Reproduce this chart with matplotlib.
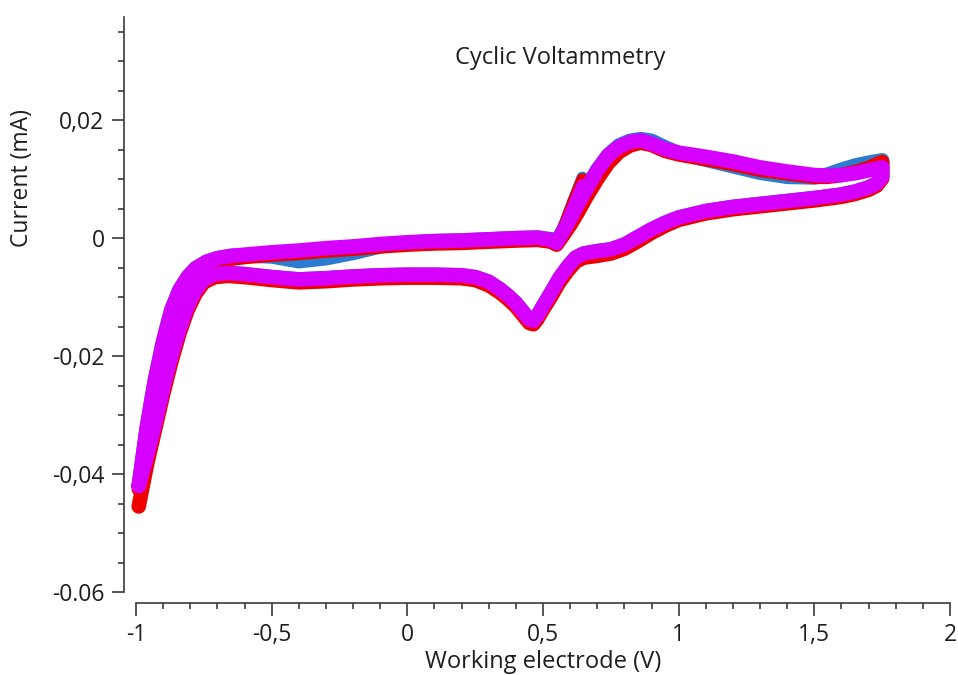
import matplotlib
matplotlib.use("Agg")
import matplotlib.pyplot as plt
from matplotlib.ticker import MultipleLocator, FixedLocator

# Potential grids (V) for the positive-going and negative-going sweeps
v_forward = [-0.99, -0.96, -0.93, -0.90, -0.87, -0.84, -0.81, -0.78, -0.74, -0.70,
             -0.65, -0.60, -0.50, -0.40, -0.30, -0.20, -0.10, 0.00, 0.10, 0.20,
             0.30, 0.40, 0.48, 0.53, 0.55, 0.57, 0.60, 0.63, 0.66, 0.70,
             0.74, 0.78, 0.82, 0.86, 0.90, 0.95, 1.00, 1.10, 1.20, 1.30,
             1.40, 1.50, 1.55, 1.60, 1.65, 1.70, 1.75]
v_reverse = [1.75, 1.73, 1.70, 1.65, 1.60, 1.50, 1.40, 1.30, 1.20, 1.10,
             1.00, 0.95, 0.90, 0.85, 0.80, 0.75, 0.70, 0.65, 0.62, 0.59,
             0.56, 0.53, 0.50, 0.48, 0.465, 0.45, 0.43, 0.40, 0.37, 0.34,
             0.30, 0.25, 0.20, 0.10, 0.00, -0.10, -0.20, -0.30, -0.40, -0.50,
             -0.60, -0.66, -0.71, -0.75, -0.78, -0.81, -0.84, -0.87, -0.90, -0.93,
             -0.96, -0.99]
v_start = [0.645, 0.61, 0.58, 0.555]

# Currents (mA), scan 1 (blue)
i_fwd_blue = [-0.0420, -0.0320, -0.0240, -0.0175, -0.0122, -0.0088, -0.0066, -0.0051, -0.0040, -0.0034,
              -0.0030, -0.0029, -0.0031, -0.0039, -0.0034, -0.0025, -0.0014, -0.0008, -0.0005, -0.0004,
              -0.0002, 0.0000, 0.0001, -0.0002, -0.0006, 0.0010, 0.0034, 0.0061, 0.0085, 0.0116,
              0.0141, 0.0157, 0.0165, 0.0168, 0.0165, 0.0154, 0.0144, 0.0133, 0.0122, 0.0111,
              0.0104, 0.0103, 0.0108, 0.0116, 0.0123, 0.0128, 0.0132]
i_rev_blue = [0.0104, 0.0093, 0.0086, 0.0079, 0.0074, 0.0068, 0.0063, 0.0058, 0.0053, 0.0046,
              0.0035, 0.0026, 0.0015, 0.0002, -0.0011, -0.0019, -0.0022, -0.0026, -0.0033, -0.0049,
              -0.0068, -0.0092, -0.0115, -0.0131, -0.0140, -0.0138, -0.0127, -0.0110, -0.0097, -0.0086,
              -0.0074, -0.0066, -0.0063, -0.0062, -0.0062, -0.0063, -0.0065, -0.0068, -0.0070, -0.0066,
              -0.0061, -0.0059, -0.0061, -0.0070, -0.0088, -0.0115, -0.0155, -0.0200, -0.0255, -0.0315,
              -0.0370, -0.0420]
i_start_blue = [0.0103, 0.0062, 0.0025, -0.0003]

# Scan 2 (red)
i_fwd_red = [-0.0425, -0.0328, -0.0248, -0.0182, -0.0128, -0.0093, -0.0071, -0.0056, -0.0045, -0.0039,
             -0.0035, -0.0032, -0.0028, -0.0025, -0.0021, -0.0018, -0.0014, -0.0011, -0.0009, -0.0008,
             -0.0006, -0.0004, -0.0003, -0.0006, -0.0011, 0.0002, 0.0022, 0.0045, 0.0070, 0.0100,
             0.0127, 0.0146, 0.0157, 0.0162, 0.0158, 0.0148, 0.0142, 0.0134, 0.0126, 0.0116,
             0.0110, 0.0104, 0.0104, 0.0107, 0.0112, 0.0119, 0.0129]
i_rev_red = [0.0101, 0.0089, 0.0082, 0.0075, 0.0070, 0.0064, 0.0059, 0.0054, 0.0049, 0.0042,
             0.0031, 0.0021, 0.0009, -0.0005, -0.0018, -0.0026, -0.0030, -0.0033, -0.0040, -0.0056,
             -0.0075, -0.0099, -0.0121, -0.0137, -0.0146, -0.0144, -0.0133, -0.0116, -0.0103, -0.0092,
             -0.0080, -0.0071, -0.0068, -0.0067, -0.0067, -0.0068, -0.0070, -0.0073, -0.0075, -0.0071,
             -0.0066, -0.0064, -0.0066, -0.0075, -0.0094, -0.0122, -0.0162, -0.0210, -0.0265, -0.0325,
             -0.0385, -0.0455]
i_start_red = [0.0100, 0.0060, 0.0024, -0.0004]

# Scan 3 (magenta)
i_fwd_mag = [-0.0420, -0.0320, -0.0240, -0.0175, -0.0122, -0.0088, -0.0066, -0.0051, -0.0040, -0.0034,
             -0.0030, -0.0028, -0.0024, -0.0021, -0.0017, -0.0014, -0.0010, -0.0007, -0.0005, -0.0004,
             -0.0002, 0.0000, 0.0001, -0.0003, -0.0008, 0.0008, 0.0032, 0.0059, 0.0083, 0.0115,
             0.0140, 0.0155, 0.0163, 0.0166, 0.0160, 0.0151, 0.0145, 0.0138, 0.0130, 0.0120,
             0.0113, 0.0107, 0.0106, 0.0107, 0.0110, 0.0115, 0.0120]
i_rev_mag = [0.0104, 0.0093, 0.0086, 0.0079, 0.0074, 0.0068, 0.0063, 0.0058, 0.0053, 0.0046,
             0.0035, 0.0026, 0.0015, 0.0002, -0.0011, -0.0019, -0.0022, -0.0026, -0.0033, -0.0049,
             -0.0068, -0.0092, -0.0115, -0.0131, -0.0140, -0.0138, -0.0127, -0.0110, -0.0097, -0.0086,
             -0.0074, -0.0066, -0.0063, -0.0062, -0.0062, -0.0063, -0.0065, -0.0068, -0.0070, -0.0066,
             -0.0061, -0.0059, -0.0061, -0.0070, -0.0088, -0.0115, -0.0155, -0.0200, -0.0255, -0.0315,
             -0.0370, -0.0420]
i_start_mag = [0.0090, 0.0052, 0.0019, -0.0005]

x_ticks = [-1, -0.5, 0, 0.5, 1, 1.5, 2]
x_tick_labels = ["-1", "-0,5", "0", "0,5", "1", "1,5", "2"]
y_ticks = [-0.06, -0.04, -0.02, 0, 0.02]
y_tick_labels = ["-0.06", "-0,04", "-0,02", "0", "0,02"]

series = [
    ("#2b7bd0", i_fwd_blue, i_rev_blue, i_start_blue),
    ("#ee0000", i_fwd_red, i_rev_red, i_start_red),
    ("#d600ff", i_fwd_mag, i_rev_mag, i_start_mag),
]

plt.rcParams["font.family"] = ["Open Sans", "DejaVu Sans"]
text_color = "#1e1e1e"
axis_color = "#3a3a3a"

W, H = 958, 675
fig = plt.figure(figsize=(W / 100, H / 100), dpi=100)
ax = fig.add_axes([136 / W, (H - 592) / H, (950 - 136) / W, (592 - 17) / H])

lw = 10.5
for color, i_fwd, i_rev, i_start in series:
    ax.plot(v_forward + v_reverse, i_fwd + i_rev, color=color, lw=lw,
            solid_capstyle="round", solid_joinstyle="round", clip_on=False)
    ax.plot(v_start, i_start, color=color, lw=lw * 0.8,
            solid_capstyle="round", solid_joinstyle="round", clip_on=False)

ax.set_xlim(-1, 2)
ax.set_ylim(-0.06, 0.0375)

for side in ("top", "right"):
    ax.spines[side].set_visible(False)
ax.spines["left"].set_position(("outward", 8.6))
ax.spines["bottom"].set_position(("outward", 8.0))
ax.spines["left"].set_bounds(-0.06, 0.0375)
ax.spines["bottom"].set_bounds(-1, 2)
for side in ("left", "bottom"):
    ax.spines[side].set_color(axis_color)
    ax.spines[side].set_linewidth(1.2)

ax.xaxis.set_major_locator(FixedLocator(x_ticks))
ax.set_xticklabels(x_tick_labels)
ax.xaxis.set_minor_locator(MultipleLocator(0.1))
ax.yaxis.set_major_locator(FixedLocator(y_ticks))
ax.set_yticklabels(y_tick_labels)
ax.yaxis.set_minor_locator(MultipleLocator(0.005))

ax.tick_params(which="major", direction="out", length=9, width=1.2,
               color=axis_color, labelsize=16.5, labelcolor=text_color, pad=5)
ax.tick_params(which="minor", direction="out", length=4.5, width=1.2, color=axis_color)

ax.set_xlabel("Working electrode (V)", fontsize=17, color=text_color, va="center")
ax.xaxis.set_label_coords(0.5, (592 - 662) / 575)
ax.set_ylabel("Current (mA)", fontsize=16.5, color=text_color, va="center", ha="center")
ax.yaxis.set_label_coords((22 - 136) / 814, (592 - 178) / 575)

ax.text((560 - 136) / 814, (592 - 58) / 575, "Cyclic Voltammetry", transform=ax.transAxes,
        ha="center", va="center", fontsize=17, color=text_color)

fig.savefig("out.png", dpi=100, facecolor="white")
